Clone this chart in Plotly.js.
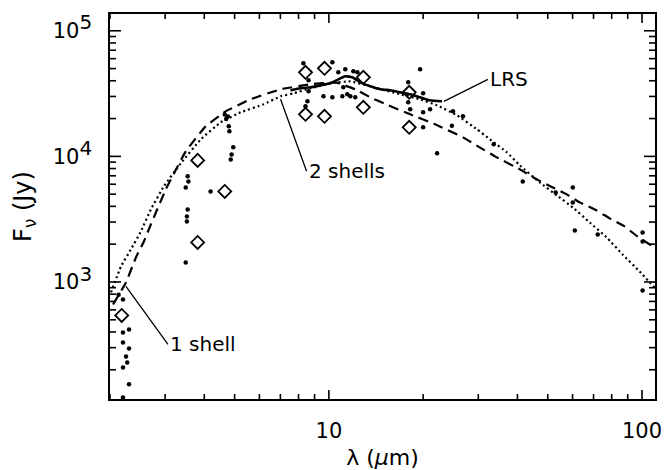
<!DOCTYPE html>
<html>
<head>
<meta charset="utf-8">
<script src="https://cdn.plot.ly/plotly-3.0.1.min.js"></script>
<style>html,body{margin:0;padding:0;background:#fff;}#chart{width:665px;height:470px;}</style>
</head>
<body>
<div id="chart"></div>
<script>
// Photometry (filled dots): wavelength (μm) and flux density (Jy)
const dotLambda = [2.20, 2.20, 2.30, 2.20, 2.30, 2.25, 2.27, 2.20, 2.30, 2.20, 2.13,
  3.54, 3.56, 3.49, 3.54, 3.52, 3.52, 3.49, 4.19,
  4.65, 4.70, 4.76, 4.79, 4.81, 4.95, 4.89, 4.86,
  8.29, 10.26, 10.72, 11.28, 11.97, 12.33, 8.61, 8.61, 8.54, 8.42, 9.61, 10.26, 11.04, 11.12, 11.71, 12.14, 11.45,
  19.56, 17.92, 20.0, 17.92, 18.18, 20.0, 21.05, 20.0, 22.16, 24.9, 26.8, 24.7, 33.6,
  41.6, 53.0, 60.1, 60.1, 61.0, 72.2, 100.4, 100.4, 100.4];
const dotFlux = [725, 396, 418, 330, 295, 255, 228, 208, 153, 120, 790,
  6930, 6320, 5660, 3782, 3326, 3035, 1430, 5260,
  21500, 19800, 20800, 17340, 15820, 11800, 10370, 9460,
  55080, 56100, 46700, 49350, 47570, 46700, 40330, 32960, 27440, 25020, 30070, 29520, 30070, 35460, 30070, 29520, 31190,
  49350, 38870, 31770, 26930, 23690, 22420, 23690, 17030, 10570, 22840, 20830, 17500, 12460,
  6320, 5165, 5660, 4300, 2573, 2390, 2480, 2102, 855];

// Photometry (open diamonds)
const diamondLambda = [2.18, 3.81, 4.65, 3.81, 8.42, 9.68, 12.88, 8.42, 9.68, 12.88, 18.05, 18.05];
const diamondFlux = [541, 9290, 5260, 2064, 46700, 50250, 42610, 21610, 20830, 24570, 32360, 17030];

// Model: 1 shell (dashed)
const oneShellLambda = [2.045, 2.249, 2.42, 2.566, 2.701, 3.015, 3.491, 4.04, 4.68, 5.62, 7.01, 8.73, 10.49,
  12.14, 13.56, 15.47, 18.18, 21.84, 26.81, 29.94, 33.91, 40.73, 46.13, 51.88, 57.49, 63.24, 71.64, 78.79, 87.98, 96.76, 109.6];
const oneShellFlux = [662, 991, 1568, 2102, 2872, 5460, 10960, 17340, 22840, 28460, 34200, 37480, 38870,
  34200, 29520, 25490, 21610, 17990, 14170, 12020, 10000, 7880, 6560, 5660, 4980, 4300, 3710, 3210, 2770, 2300, 1880];

// Model: 2 shells (dotted)
const twoShellLambda = [2.014, 2.168, 2.332, 2.51, 2.701, 2.971, 3.366, 3.898, 4.513, 5.227, 6.185, 7.01, 7.706, 8.73,
  10.11, 11.71, 13.56, 16.89, 19.56, 22.16, 25.66, 29.71, 32.68, 37.03, 40.73, 47.16, 53.42, 60.07, 68.05, 77.10, 86.68, 98.17, 109.6];
const twoShellFlux = [825, 1329, 1816, 2526, 3782, 5770, 8795, 13660, 18660, 22420, 25960, 30070, 31770, 34830,
  38160, 39600, 36130, 31190, 28460, 25490, 21220, 16410, 13660, 10760, 8480, 6200, 4890, 3924, 2980, 2262, 1656, 1213, 904];

// IRAS LRS spectrum (solid)
const lrsLambda = [7.54, 8.11, 8.73, 9.40, 10.11, 10.72, 11.28, 11.88, 12.60, 13.56, 14.59, 15.70, 16.89, 18.18, 19.56, 21.05, 22.98];
const lrsFlux = [33570, 34830, 35460, 36790, 38160, 41070, 43410, 42610, 38870, 36130, 34200, 33570, 32360, 31190, 29520, 27940, 27440];

// Axis ticks
const xMajor = [10, 100];
const xMajorText = ['10', '100'];
const xMinor = [2, 3, 4, 5, 6, 7, 8, 9, 20, 30, 40, 50, 60, 70, 80, 90];
const yMajor = [1e3, 1e4, 1e5];
const yMajorText = ['10<sup><span style="font-size:20px">3</span></sup>',
                    '10<sup><span style="font-size:20px">4</span></sup>',
                    '10<sup><span style="font-size:20px">5</span></sup>'];
const yMinor = [200, 300, 400, 500, 600, 700, 800, 900, 2000, 3000, 4000, 5000, 6000, 7000, 8000, 9000,
  20000, 30000, 40000, 50000, 60000, 70000, 80000, 90000];

// Label anchor points (data units)
const oneShellLabelAt = [2.249, 921];
const twoShellLabelAt = [7.01, 28460];
const lrsLabelAt = [23.3, 27440];

const FONT = 'DejaVu Sans, Liberation Sans, sans-serif';
const L = Math.log10;
const xRange = [L(2), L(110)];
const yRange = [L(117), L(1.36e5)];
const TICKCOLOR = '#000';

// tick marks on all four sides of the frame (axis decoration, placed from the axis ranges)
const fx = v => (L(v) - xRange[0]) / (xRange[1] - xRange[0]);
const fy = v => (L(v) - yRange[0]) / (yRange[1] - yRange[0]);
const tickShapes = [];
function addXTick(v, len) {
  const p = fx(v);
  tickShapes.push({type: 'line', xref: 'paper', yref: 'paper', x0: p, x1: p, ysizemode: 'pixel', yanchor: 0, y0: 0, y1: len, line: {color: TICKCOLOR, width: 1.6}});
  tickShapes.push({type: 'line', xref: 'paper', yref: 'paper', x0: p, x1: p, ysizemode: 'pixel', yanchor: 1, y0: 0, y1: -len, line: {color: TICKCOLOR, width: 1.6}});
}
function addYTick(v, len) {
  const p = fy(v);
  tickShapes.push({type: 'line', xref: 'paper', yref: 'paper', y0: p, y1: p, xsizemode: 'pixel', xanchor: 0, x0: 0, x1: len, line: {color: TICKCOLOR, width: 1.6}});
  tickShapes.push({type: 'line', xref: 'paper', yref: 'paper', y0: p, y1: p, xsizemode: 'pixel', xanchor: 1, x0: 0, x1: -len, line: {color: TICKCOLOR, width: 1.6}});
}
xMajor.forEach(v => addXTick(v, 9));
xMinor.forEach(v => addXTick(v, 5));
yMajor.forEach(v => addYTick(v, 11));
yMinor.forEach(v => addYTick(v, 6));

const traces = [
  {x: dotLambda, y: dotFlux, type: 'scatter', mode: 'markers', name: 'photometry',
   marker: {symbol: 'circle', size: 4.5, color: '#000'}},
  {x: diamondLambda, y: diamondFlux, type: 'scatter', mode: 'markers', name: 'photometry (diamonds)',
   marker: {symbol: 'diamond-open', size: 10, color: '#000', line: {width: 1.8, color: '#000'}}},
  {x: oneShellLambda, y: oneShellFlux, type: 'scatter', mode: 'lines', name: '1 shell',
   line: {color: '#000', width: 2.2, dash: '10px,6px', shape: 'spline', smoothing: 0.3}},
  {x: twoShellLambda, y: twoShellFlux, type: 'scatter', mode: 'lines', name: '2 shells',
   line: {color: '#000', width: 2.2, dash: '2px,3px', shape: 'spline', smoothing: 0.3}},
  {x: lrsLambda, y: lrsFlux, type: 'scatter', mode: 'lines', name: 'LRS',
   line: {color: '#000', width: 2.6, shape: 'spline', smoothing: 0.4}}
];

const axisCommon = {
  type: 'log', showgrid: false, zeroline: false,
  showline: true, linecolor: '#000', linewidth: 1.6, mirror: true,
  ticks: '', tickmode: 'array', tickangle: 0,
  tickfont: {family: FONT, size: 21, color: '#000'}
};

const layout = {
  width: 665, height: 470,
  margin: {l: 110, r: 10, t: 14, b: 71},
  paper_bgcolor: '#fff', plot_bgcolor: '#fff',
  showlegend: false,
  font: {family: FONT, color: '#000'},
  xaxis: Object.assign({}, axisCommon, {
    range: xRange, tickvals: xMajor, ticktext: xMajorText,
    ticklabelstandoff: 12,
    title: {text: 'λ (<i>μ</i>m)', font: {family: FONT, size: 22, color: '#000'}, standoff: 8}
  }),
  yaxis: Object.assign({}, axisCommon, {
    range: yRange, tickvals: yMajor, ticktext: yMajorText,
    ticklabelstandoff: 12,
    title: {text: 'F<sub>ν</sub> (Jy)', font: {family: FONT, size: 24, color: '#000'}, standoff: 14}
  }),
  shapes: tickShapes,
  annotations: [
    {x: L(oneShellLabelAt[0]), y: L(oneShellLabelAt[1]), xref: 'x', yref: 'y', text: '1 shell',
     showarrow: true, arrowhead: 0, arrowwidth: 1.3, arrowcolor: '#000', ax: 42, ay: 58,
     xanchor: 'left', yanchor: 'middle', font: {family: FONT, size: 20, color: '#000'}},
    {x: L(twoShellLabelAt[0]), y: L(twoShellLabelAt[1]), xref: 'x', yref: 'y', text: '2 shells',
     showarrow: true, arrowhead: 0, arrowwidth: 1.3, arrowcolor: '#000', ax: 26, ay: 72,
     xanchor: 'left', yanchor: 'middle', font: {family: FONT, size: 20, color: '#000'}},
    {x: L(lrsLabelAt[0]), y: L(lrsLabelAt[1]), xref: 'x', yref: 'y', text: 'LRS',
     showarrow: true, arrowhead: 0, arrowwidth: 1.3, arrowcolor: '#000', ax: 44, ay: -22,
     xanchor: 'left', yanchor: 'middle', font: {family: FONT, size: 20, color: '#000'}}
  ]
};

Plotly.newPlot('chart', traces, layout, {staticPlot: true, displayModeBar: false});
</script>
</body>
</html>
